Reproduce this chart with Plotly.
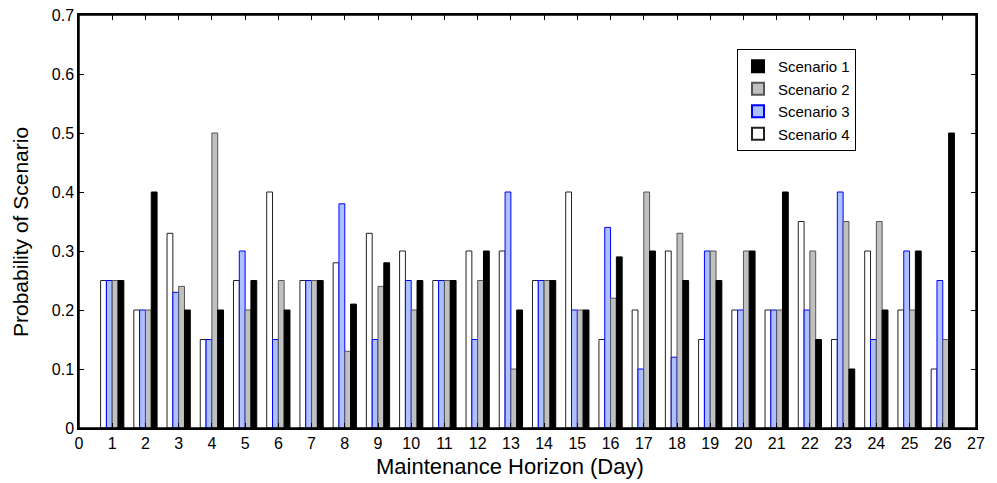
import plotly.graph_objects as go

days = list(range(1, 27))
scenario1 = [0.25, 0.4, 0.2, 0.2, 0.25, 0.2, 0.25, 0.21, 0.28, 0.25, 0.25, 0.3, 0.2, 0.25, 0.2, 0.29, 0.3, 0.25, 0.25, 0.3, 0.4, 0.15, 0.1, 0.2, 0.3, 0.5]
scenario2 = [0.25, 0.2, 0.24, 0.5, 0.2, 0.25, 0.25, 0.13, 0.24, 0.2, 0.25, 0.25, 0.1, 0.25, 0.2, 0.22, 0.4, 0.33, 0.3, 0.3, 0.2, 0.3, 0.35, 0.35, 0.2, 0.15]
scenario3 = [0.25, 0.2, 0.23, 0.15, 0.3, 0.15, 0.25, 0.38, 0.15, 0.25, 0.25, 0.15, 0.4, 0.25, 0.2, 0.34, 0.1, 0.12, 0.3, 0.2, 0.2, 0.2, 0.4, 0.15, 0.3, 0.25]
scenario4 = [0.25, 0.2, 0.33, 0.15, 0.25, 0.4, 0.25, 0.28, 0.33, 0.3, 0.25, 0.3, 0.3, 0.25, 0.4, 0.15, 0.2, 0.3, 0.15, 0.2, 0.2, 0.35, 0.15, 0.3, 0.2, 0.1]

FONT = "Liberation Sans, Arial, sans-serif"

# page body has an 8px margin, so the figure is drawn at (8, 8)
W, H = 989, 475
ML, MR, MT, MB = 71, 21, 7, 55

fig = go.Figure()
# left-to-right order within each group: Scenario 4, 3, 2, 1
fig.add_trace(go.Bar(x=days, y=scenario4, name="Scenario 4",
                     marker=dict(color="#ffffff", line=dict(color="#222222", width=1))))
fig.add_trace(go.Bar(x=days, y=scenario3, name="Scenario 3",
                     marker=dict(color="#adc0ff", line=dict(color="#0000ff", width=1))))
fig.add_trace(go.Bar(x=days, y=scenario2, name="Scenario 2",
                     marker=dict(color="#c0c0c0", line=dict(color="#555555", width=1))))
fig.add_trace(go.Bar(x=days, y=scenario1, name="Scenario 1",
                     marker=dict(color="#000000", line=dict(color="#000000", width=1))))

pw = W - ML - MR
ph = H - MT - MB

fig.update_layout(
    width=W, height=H,
    margin=dict(l=ML, r=MR, t=MT, b=MB),
    paper_bgcolor="white", plot_bgcolor="white",
    barmode="group", bargap=0.3, bargroupgap=0,
    font=dict(family=FONT, size=16, color="black"),
    showlegend=True,
    legend=dict(traceorder="reversed", x=(737 - 8 - ML) / pw, y=1 - (49 - 8 - MT) / ph,
                xanchor="left", yanchor="top",
                bgcolor="white", bordercolor="black", borderwidth=1,
                font=dict(family=FONT, size=15), tracegroupgap=0, itemsizing="constant"),
    xaxis=dict(range=[0, 27], tickmode="linear", tick0=0, dtick=1, automargin=False,
               showline=True, linecolor="black", linewidth=1.5, mirror="ticks",
               ticks="inside", ticklen=5, tickcolor="black", showgrid=False, zeroline=False,
               ticklabeloverflow="allow", tickfont=dict(size=16)),
    yaxis=dict(range=[0, 0.7], tickmode="linear", tick0=0, dtick=0.1, automargin=False,
               showline=True, linecolor="black", linewidth=1.5, mirror="ticks",
               ticks="inside", ticklen=5, tickcolor="black", showgrid=False, zeroline=False,
               ticklabeloverflow="allow", tickfont=dict(size=16)),
    shapes=[dict(type="rect", xref="paper", yref="paper", x0=0, x1=1, y0=0, y1=1,
                 line=dict(color="black", width=1.5), fillcolor="rgba(0,0,0,0)", layer="above")],
    annotations=[
        dict(text="Maintenance Horizon (Day)", xref="paper", yref="paper",
             x=(510 - 8 - ML) / pw, y=-(466 - 8 - MT - ph) / ph, xanchor="center", yanchor="middle",
             showarrow=False, font=dict(size=22)),
        dict(text="Probability of Scenario", xref="paper", yref="paper", textangle=-90,
             x=(20 - 8 - ML) / pw, y=1 - (232 - 8 - MT) / ph, xanchor="center", yanchor="middle",
             showarrow=False, font=dict(size=21)),
    ],
)

fig.write_html("out.html")
